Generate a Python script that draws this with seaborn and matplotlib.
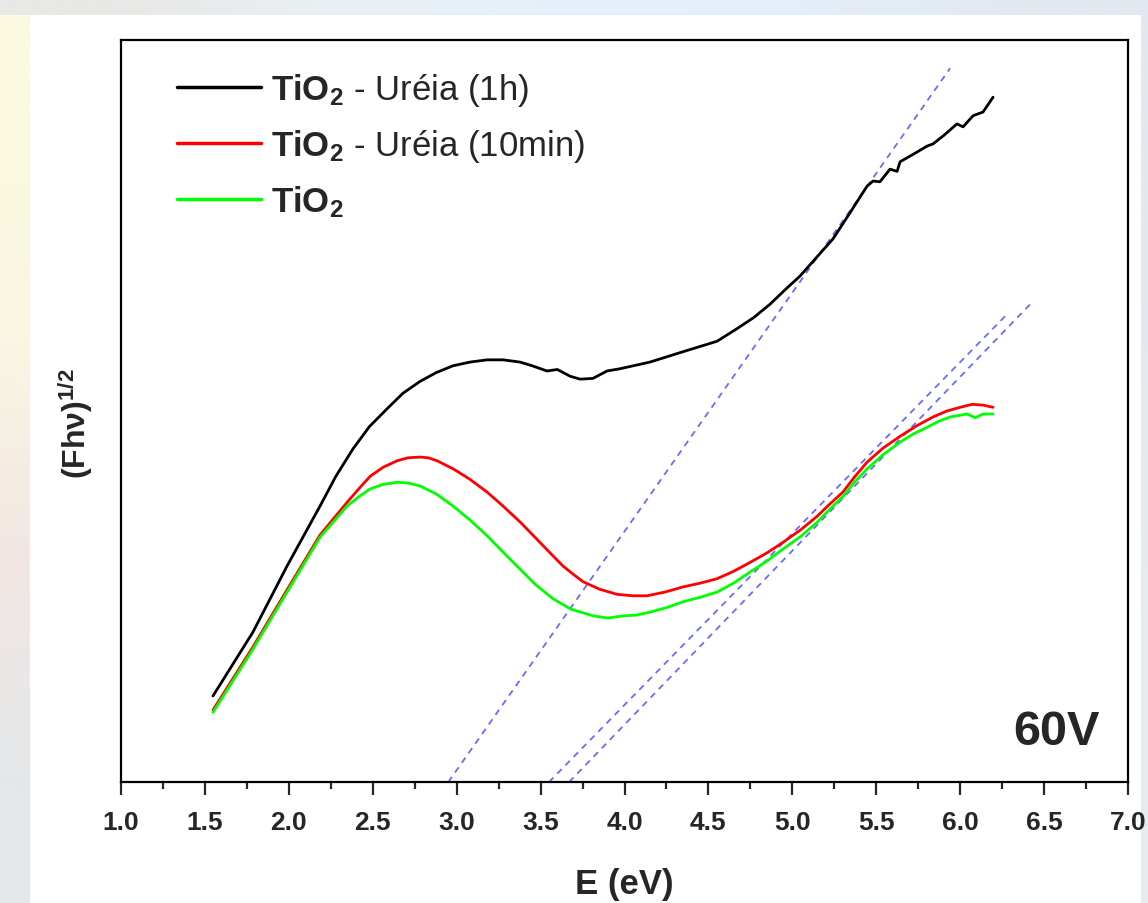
import numpy as np
import pandas as pd
import matplotlib
matplotlib.use('Agg')
import matplotlib.pyplot as plt
import seaborn as sns
from matplotlib.ticker import MultipleLocator, FormatStrFormatter

# Energy (eV) and (F h nu)^1/2 in arbitrary units
e_urea_1h = [1.548, 1.786, 1.989, 2.186, 2.28, 2.382, 2.48, 2.585, 2.68, 2.782,
             2.88, 2.978, 3.08, 3.181, 3.276, 3.377, 3.45, 3.538, 3.60, 3.675,
             3.735, 3.812, 3.896, 3.973, 4.152, 4.349, 4.551, 4.670, 4.77, 4.867,
             4.95, 5.046, 5.14, 5.242, 5.34, 5.445, 5.481, 5.522, 5.582, 5.624,
             5.642, 5.72, 5.802, 5.838, 5.90, 5.981, 6.017, 6.077, 6.136, 6.160,
             6.196]
y_urea_1h = [0.116, 0.202, 0.291, 0.372, 0.412, 0.449, 0.479, 0.503, 0.524, 0.540,
             0.552, 0.561, 0.566, 0.569, 0.569, 0.566, 0.561, 0.554, 0.556, 0.547,
             0.543, 0.544, 0.554, 0.557, 0.566, 0.580, 0.594, 0.611, 0.626, 0.644,
             0.662, 0.682, 0.706, 0.732, 0.766, 0.803, 0.810, 0.809, 0.826, 0.823,
             0.836, 0.846, 0.857, 0.860, 0.871, 0.887, 0.883, 0.898, 0.903, 0.911,
             0.923]

e_urea_10 = [1.548, 1.786, 1.989, 2.186, 2.347, 2.42, 2.484, 2.56, 2.645, 2.71,
             2.782, 2.83, 2.883, 2.98, 3.079, 3.18, 3.276, 3.38, 3.479, 3.56,
             3.634, 3.70, 3.753, 3.85, 3.955, 4.05, 4.134, 4.24, 4.349, 4.45,
             4.551, 4.65, 4.748, 4.85, 4.944, 5.05, 5.147, 5.22, 5.302, 5.37,
             5.445, 5.54, 5.642, 5.74, 5.838, 5.92, 5.999, 6.07, 6.136, 6.196]
y_urea_10 = [0.097, 0.182, 0.259, 0.333, 0.377, 0.396, 0.412, 0.424, 0.433, 0.437,
             0.438, 0.437, 0.433, 0.422, 0.408, 0.391, 0.372, 0.350, 0.327, 0.308,
             0.291, 0.279, 0.270, 0.260, 0.253, 0.251, 0.251, 0.256, 0.263, 0.268,
             0.274, 0.284, 0.296, 0.309, 0.323, 0.340, 0.358, 0.374, 0.391, 0.411,
             0.431, 0.450, 0.466, 0.480, 0.492, 0.500, 0.505, 0.509, 0.508, 0.505]

e_tio2 = [1.548, 1.786, 1.989, 2.186, 2.347, 2.42, 2.484, 2.56, 2.645, 2.71,
          2.782, 2.88, 2.978, 3.08, 3.181, 3.28, 3.377, 3.47, 3.574, 3.68,
          3.812, 3.90, 3.991, 4.07, 4.152, 4.25, 4.349, 4.45, 4.551, 4.65,
          4.748, 4.85, 4.944, 5.05, 5.147, 5.22, 5.302, 5.37, 5.445, 5.54,
          5.642, 5.72, 5.802, 5.87, 5.940, 6.041, 6.09, 6.136, 6.196]
y_tio2 = [0.094, 0.179, 0.256, 0.330, 0.372, 0.385, 0.395, 0.401, 0.404, 0.403,
          0.399, 0.388, 0.372, 0.353, 0.332, 0.309, 0.287, 0.266, 0.247, 0.233,
          0.224, 0.221, 0.224, 0.225, 0.229, 0.235, 0.243, 0.249, 0.256, 0.268,
          0.283, 0.298, 0.314, 0.331, 0.350, 0.367, 0.385, 0.404, 0.422, 0.441,
          0.458, 0.469, 0.478, 0.486, 0.492, 0.496, 0.491, 0.496, 0.496]

# linear fits (band gap extrapolation), end points
fit_x = [[2.95, 5.94], [3.55, 6.29], [3.67, 6.43]]
fit_y = [[0.0, 0.962], [0.0, 0.633], [0.0, 0.647]]

labels = [r'$\mathbf{TiO_2}$ - Uréia (1h)', r'$\mathbf{TiO_2}$ - Uréia (10min)', r'$\mathbf{TiO_2}$']
colors = ['#000000', '#ff0000', '#00ff00']

sns.set_style('ticks')
plt.rcParams['font.family'] = ['Liberation Sans', 'DejaVu Sans']
plt.rcParams['mathtext.fontset'] = 'custom'
plt.rcParams['mathtext.rm'] = 'Liberation Sans'
plt.rcParams['mathtext.bf'] = 'Liberation Sans:bold'
plt.rcParams['mathtext.it'] = 'Liberation Sans:italic'

fig = plt.figure(figsize=(11.48, 9.04), dpi=100, facecolor='white')

# blurred slide background around the white panel
bg = fig.add_axes([0, 0, 1, 1], zorder=-10)
bg.axis('off')
left_strip = np.array([[[251, 249, 222]], [[250, 246, 226]], [[241, 230, 226]], [[228, 232, 234]]]) / 255
bg.imshow(left_strip, extent=(0, 30, 904, 0), aspect='auto', interpolation='bilinear')
top_strip = np.array([[[232, 232, 230], [234, 240, 244], [228, 240, 250], [228, 238, 248], [226, 232, 240]]]) / 255
bg.imshow(top_strip, extent=(0, 1148, 16, 0), aspect='auto', interpolation='bilinear')
right_strip = np.array([[[226, 232, 240]], [[232, 236, 240]]]) / 255
bg.imshow(right_strip, extent=(1141, 1148, 904, 16), aspect='auto', interpolation='bilinear')
bg.set_xlim(0, 1148)
bg.set_ylim(904, 0)

ax = fig.add_axes([0.1054, 0.1338, 0.8772, 0.8208])
ax.set_facecolor('white')

series = [(e_urea_1h, y_urea_1h), (e_urea_10, y_urea_10), (e_tio2, y_tio2)]
for (xs, ys), lab, col in zip(series, labels, colors):
    sns.lineplot(x=xs, y=ys, ax=ax, color=col, lw=2.0, label=lab, sort=False,
                 estimator=None, solid_joinstyle='round')

for xs, ys in zip(fit_x, fit_y):
    ax.plot(xs, ys, color='#6a6aff', lw=1.3, dashes=(3.5, 3), zorder=1)

ax.set_xlim(1.0, 7.0)
ax.set_ylim(0, 1.0)
ax.set_yticks([])
ax.xaxis.set_major_locator(MultipleLocator(0.5))
ax.xaxis.set_minor_locator(MultipleLocator(0.25))
ax.xaxis.set_major_formatter(FormatStrFormatter('%.1f'))
ax.tick_params(axis='x', which='major', direction='out', length=9, width=1.6, pad=11,
               labelsize=19)
ax.tick_params(axis='x', which='minor', direction='out', length=5, width=1.6)
for lab in ax.get_xticklabels():
    lab.set_fontweight('bold')
for sp in ax.spines.values():
    sp.set_linewidth(1.6)
    sp.set_color('black')

ax.set_xlabel('E (eV)', fontsize=25, fontweight='bold', labelpad=24)
ax.set_ylabel(r'(Fhν)$^{\mathbf{1/2}}$', fontsize=23, fontweight='bold')
ax.yaxis.set_label_coords(-0.026, 0.485)

ax.text(0.972, 0.051, '60V', transform=ax.transAxes, ha='right', va='baseline',
        fontsize=35, fontweight='bold')

leg = ax.legend(loc='upper left', bbox_to_anchor=(0.025, 1.0), frameon=False,
                fontsize=25, handlelength=2.4, handletextpad=0.3, labelspacing=0.55)
for line in leg.get_lines():
    line.set_linewidth(2.5)

fig.savefig('out.png', dpi=100, facecolor='white')
